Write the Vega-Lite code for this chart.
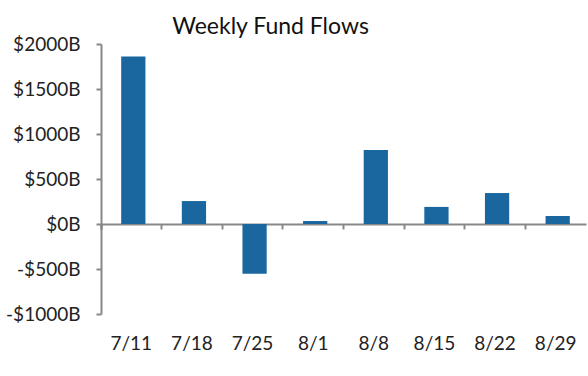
{
  "$schema": "https://vega.github.io/schema/vega-lite/v6.json",
  "width": 485,
  "height": 270,
  "autosize": {"type": "none"},
  "padding": {"left": 101, "top": 44, "right": 2, "bottom": 62},
  "background": "white",
  "title": {"text": "Weekly Fund Flows", "font": "Lato", "fontSize": 23, "fontWeight": "normal", "color": "#111111", "anchor": "middle", "frame": "group", "dx": -73, "offset": 12, "baseline": "alphabetic", "dy": 34},
  "data": {"values": [
    {"week": "7/11", "flow": 1860},
    {"week": "7/18", "flow": 255},
    {"week": "7/25", "flow": -552},
    {"week": "8/1", "flow": 33},
    {"week": "8/8", "flow": 822},
    {"week": "8/15", "flow": 190},
    {"week": "8/22", "flow": 344},
    {"week": "8/29", "flow": 89}
  ]},
  "config": {
    "view": {"stroke": null},
    "axis": {"labelFont": "Lato", "labelFontSize": 19, "labelColor": "#222222", "grid": false, "domainColor": "#888888", "tickColor": "#888888", "domainWidth": 2, "tickWidth": 2}
  },
  "encoding": {
    "y": {"field": "flow", "type": "quantitative", "scale": {"domain": [-1000, 2000], "nice": false, "zero": false},
      "axis": {"title": null, "values": [-1000, -500, 0, 500, 1000, 1500, 2000], "labelExpr": "datum.value < 0 ? '-$' + abs(datum.value) + 'B' : '$' + datum.value + 'B'", "tickSize": 5, "labelPadding": 16}}
  },
  "layer": [
    {
      "mark": {"type": "bar", "color": "#1a67a0", "width": {"band": 0.4}, "xOffset": 2},
      "encoding": {
        "x": {"field": "week", "type": "nominal", "sort": null, "scale": {"paddingInner": 0, "paddingOuter": 0},
          "axis": {"orient": "bottom", "title": null, "domain": false, "ticks": false, "labelPadding": 20, "labelAngle": 0}}
      }
    },
    {
      "mark": {"type": "bar", "opacity": 0},
      "encoding": {
        "x": {"field": "week", "type": "nominal", "sort": null, "scale": {"paddingInner": 0, "paddingOuter": 0},
          "axis": {"orient": "bottom", "title": null, "labels": false, "offset": -90, "tickSize": 5, "bandPosition": 0, "tickExtra": true}}
      }
    }
  ],
  "resolve": {"axis": {"x": "independent"}}
}
